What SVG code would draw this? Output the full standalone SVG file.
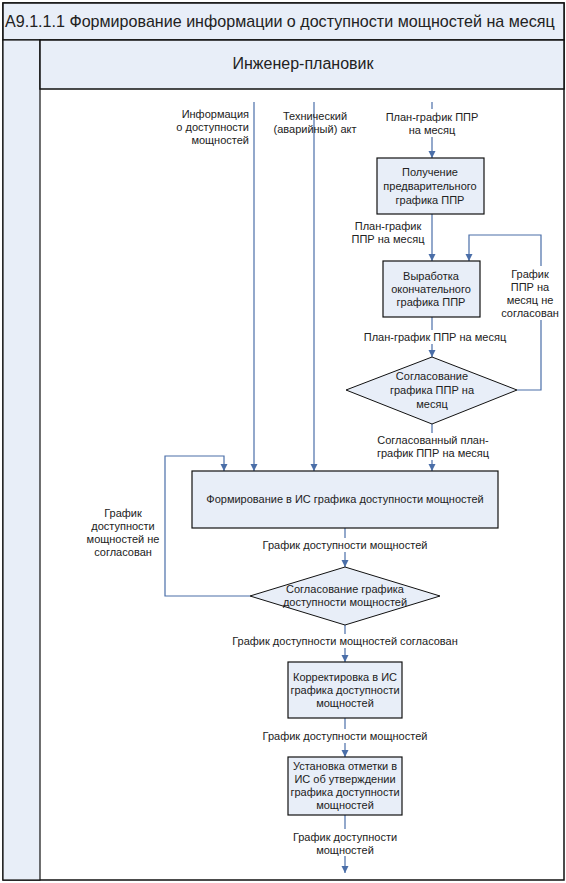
<svg xmlns="http://www.w3.org/2000/svg" width="566" height="883" viewBox="0 0 566 883">
<defs>
<marker id="arr" markerWidth="8" markerHeight="8" refX="7" refY="4" orient="auto" markerUnits="userSpaceOnUse"><path d="M0,0.5 L7,4 L0,7.5 z" fill="#4a6ea8"/></marker>
<style>
text{font-family:"Liberation Sans",Arial,sans-serif;fill:#222;}
.t{font-size:11px;text-anchor:middle;}
.box{fill:#e8eef8;stroke:#111;stroke-width:1.2;}
.dia{fill:#e8eef8;stroke:#111;stroke-width:1;}
.ln{fill:none;stroke:#4a6ea8;stroke-width:1.2;}
.ar{marker-end:url(#arr);}
.bg{fill:#fff;}
</style>
</defs>
<rect x="0" y="0" width="566" height="883" fill="#fff"/>
<g id="frame">
<rect x="3" y="3" width="561" height="877" fill="#fff" stroke="#111" stroke-width="1.5"/>
<rect x="3" y="3" width="561" height="37" fill="#e8eef8" stroke="#111" stroke-width="1.5"/>
<text x="5" y="27" style="font-size:16.1px">А9.1.1.1 Формирование информации о доступности мощностей на месяц</text>
<rect x="3" y="40" width="37" height="840" fill="#e8eef8" stroke="#111" stroke-width="1.2"/>
<rect x="40" y="40" width="524" height="49" fill="#e8eef8" stroke="#111" stroke-width="1.5"/>
<text x="303" y="69" style="font-size:16px;text-anchor:middle">Инженер-плановик</text>
</g>
<g id="connectors">
<path class="ln ar" d="M254,102 V471"/>
<path class="ln ar" d="M314,102 V471"/>
<path class="ln ar" d="M432,102 V158"/>
<path class="ln ar" d="M432,214 V261"/>
<path class="ln ar" d="M517,390 H541 V235 H469 V261"/>
<path class="ln ar" d="M432,317 V357"/>
<path class="ln ar" d="M432,424 V471"/>
<path class="ln ar" d="M345,528 V567"/>
<path class="ln ar" d="M250,596 H165 V456 H224 V471"/>
<path class="ln ar" d="M345,625 V662"/>
<path class="ln ar" d="M345,718 V757"/>
<path class="ln ar" d="M345,815 V873"/>
<text x="249" y="118" style="font-size:11px;text-anchor:end">Информация</text>
<text x="249" y="131" style="font-size:11px;text-anchor:end">о доступности</text>
<text x="249" y="144" style="font-size:11px;text-anchor:end">мощностей</text>
<text class="t" x="315" y="120">Технический</text>
<text class="t" x="315" y="133">(аварийный) акт</text>
<rect class="bg" x="384" y="109" width="96" height="28"/>
<text class="t" x="432" y="121">План-график ППР</text>
<text class="t" x="432" y="134">на месяц</text>
<rect class="bg" x="350" y="220" width="76" height="27"/>
<text class="t" x="388" y="230">План-график</text>
<text class="t" x="388" y="243">ППР на месяц</text>
<rect class="bg" x="502" y="266" width="58" height="54"/>
<text class="t" x="530" y="278">График</text>
<text class="t" x="530" y="291">ППР на</text>
<text class="t" x="530" y="304">месяц не</text>
<text class="t" x="530" y="317">согласован</text>
<rect class="bg" x="364" y="330" width="142" height="14"/>
<text class="t" x="435" y="341">План-график ППР на месяц</text>
<rect class="bg" x="376" y="433" width="114" height="27"/>
<text class="t" x="433" y="444">Согласованный план-</text>
<text class="t" x="433" y="457">график ППР на месяц</text>
<rect class="bg" x="88" y="506" width="72" height="54"/>
<text class="t" x="123" y="517">График</text>
<text class="t" x="123" y="530">доступности</text>
<text class="t" x="123" y="543">мощностей не</text>
<text class="t" x="123" y="556">согласован</text>
<rect class="bg" x="262" y="538" width="166" height="14"/>
<text class="t" x="345" y="549">График доступности мощностей</text>
<rect class="bg" x="232" y="634" width="226" height="14"/>
<text class="t" x="345" y="645">График доступности мощностей согласован</text>
<rect class="bg" x="262" y="729" width="166" height="14"/>
<text class="t" x="345" y="740">График доступности мощностей</text>
<rect class="bg" x="292" y="829" width="106" height="27"/>
<text class="t" x="345" y="841">График доступности</text>
<text class="t" x="345" y="854">мощностей</text>
</g>
<g id="n1">
<rect class="box" x="377" y="158" width="107" height="56"/>
<text class="t" x="430" y="176">Получение</text>
<text class="t" x="430" y="190">предварительного</text>
<text class="t" x="430" y="204">графика ППР</text>
</g>
<g id="n2">
<rect class="box" x="383" y="261" width="97" height="56"/>
<text class="t" x="431" y="280">Выработка</text>
<text class="t" x="431" y="293">окончательного</text>
<text class="t" x="431" y="306">графика ППР</text>
</g>
<g id="n3">
<polygon class="dia" points="432,357 517,390 432,424 346,390"/>
<text class="t" x="432" y="380">Согласование</text>
<text class="t" x="432" y="394">графика ППР на</text>
<text class="t" x="432" y="408">месяц</text>
</g>
<g id="n4">
<rect class="box" x="192" y="471" width="306" height="57"/>
<text class="t" x="345" y="503">Формирование в ИС графика доступности мощностей</text>
</g>
<g id="n5">
<polygon class="dia" points="345,567 440,596 345,625 250,596"/>
<text class="t" x="345" y="593">Согласование графика</text>
<text class="t" x="345" y="606">доступности мощностей</text>
</g>
<g id="n6">
<rect class="box" x="288" y="662" width="114" height="56"/>
<text class="t" x="345" y="681">Корректировка в ИС</text>
<text class="t" x="345" y="694">графика доступности</text>
<text class="t" x="345" y="707">мощностей</text>
</g>
<g id="n7">
<rect class="box" x="288" y="757" width="114" height="58"/>
<text class="t" x="345" y="770">Установка отметки в</text>
<text class="t" x="345" y="783">ИС об утверждении</text>
<text class="t" x="345" y="796">графика доступности</text>
<text class="t" x="345" y="809">мощностей</text>
</g>
</svg>
